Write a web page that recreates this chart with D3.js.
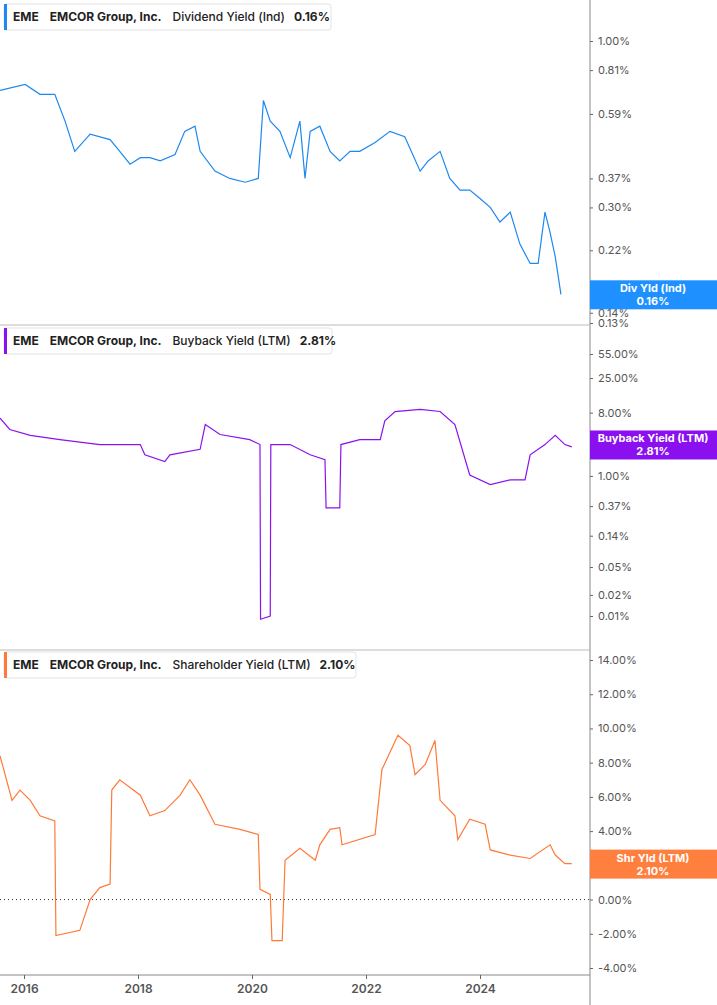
<!DOCTYPE html>
<html><head><meta charset="utf-8">
<script src="https://cdn.jsdelivr.net/npm/d3@7"></script>
<style>body{margin:0;background:#fff}text{font-family:Inter,"Noto Sans",sans-serif}</style>
</head><body><svg id="c" width="717" height="1005"></svg>
<script>
// px->year helpers used only once to express read-off years
const divYears=[2015.58,2016.02,2016.28,2016.54,2016.72,2016.89,2017.16,2017.51,2017.68,2017.86,2018.04,2018.21,2018.39,2018.65,2018.82,2019.0,2019.09,2019.35,2019.61,2019.88,2020.11,2020.2,2020.32,2020.49,2020.67,2020.84,2020.93,2021.02,2021.19,2021.37,2021.54,2021.72,2021.89,2022.16,2022.42,2022.68,2022.95,2023.09,2023.3,2023.47,2023.65,2023.82,2024.0,2024.18,2024.35,2024.53,2024.7,2024.88,2025.02,2025.14,2025.23,2025.32,2025.42];
const divVals=[0.70,0.73,0.68,0.68,0.56,0.45,0.51,0.49,0.45,0.41,0.43,0.43,0.42,0.44,0.52,0.54,0.45,0.39,0.37,0.36,0.37,0.65,0.56,0.52,0.43,0.56,0.37,0.52,0.54,0.45,0.42,0.45,0.45,0.48,0.52,0.50,0.39,0.42,0.45,0.37,0.34,0.34,0.32,0.30,0.27,0.29,0.23,0.20,0.20,0.29,0.25,0.21,0.16];
const bbYears=[2015.58,2015.75,2016.11,2016.63,2017.33,2018.04,2018.12,2018.47,2018.56,2019.09,2019.18,2019.44,2019.96,2020.14,2020.15,2020.32,2020.33,2020.67,2021.02,2021.28,2021.3,2021.54,2021.56,2021.89,2022.25,2022.33,2022.51,2022.95,2023.3,2023.56,2023.82,2024.18,2024.53,2024.79,2024.88,2025.14,2025.32,2025.49,2025.61];
const bbVals=[6.7,4.6,3.8,3.3,2.8,2.8,2.0,1.6,2.0,2.4,5.4,3.9,3.3,2.8,0.009,0.010,2.8,2.8,2.0,1.7,0.35,0.35,2.8,3.3,3.3,6.1,8.3,8.9,8.3,5.4,1.03,0.75,0.88,0.88,2.0,2.8,3.8,2.8,2.6];
const shYears=[2015.58,2015.79,2015.93,2016.11,2016.28,2016.54,2016.56,2016.98,2017.16,2017.33,2017.51,2017.54,2017.68,2018.04,2018.21,2018.47,2018.74,2018.91,2019.09,2019.35,2019.79,2020.11,2020.14,2020.32,2020.35,2020.53,2020.58,2020.84,2021.11,2021.19,2021.37,2021.54,2021.58,2022.16,2022.28,2022.56,2022.77,2022.86,2023.04,2023.21,2023.3,2023.56,2023.61,2023.82,2024.09,2024.18,2024.53,2024.88,2025.23,2025.32,2025.49,2025.61];
const shVals=[8.4,5.8,6.4,5.8,4.9,4.6,-2.1,-1.8,0.0,0.7,0.9,6.4,7.0,6.1,4.9,5.2,6.1,7.0,6.1,4.4,4.1,3.8,0.6,0.3,-2.4,-2.4,2.3,3.0,2.3,3.2,4.1,4.2,3.2,3.8,7.6,9.6,9.0,7.3,7.9,9.3,5.8,4.9,3.5,4.7,4.4,2.9,2.6,2.4,3.2,2.6,2.1,2.1];
const xTicks=[2016,2018,2020,2022,2024];
const divTicks=[1.00,0.81,0.59,0.37,0.30,0.22,0.14,0.13];
const bbTicks=[55,25,8,1,0.37,0.14,0.05,0.02,0.01];
const shTicks=[14,12,10,8,6,4,2,0,-2,-4];

const svg=d3.select("#c");
const x=d3.scaleLinear().domain([2016,2024]).range([24,480]);
const yD=d3.scaleLog().domain([1.0,0.13]).range([41,323]);
const yB=d3.scaleLog().domain([55,0.01]).range([354,616]);
const yS=d3.scaleLinear().domain([14,-4]).range([660,968]);
const AX=590;
svg.append("line").attr("x1",AX).attr("x2",AX).attr("y1",0).attr("y2",1005).attr("stroke","#888");
[325,650].forEach(y=>svg.append("line").attr("x1",0).attr("x2",AX).attr("y1",y).attr("y2",y).attr("stroke","#bbb"));
svg.append("line").attr("x1",0).attr("x2",AX).attr("y1",yS(0)).attr("y2",yS(0)).attr("stroke","#333").attr("stroke-dasharray","1,3");

function yaxis(sc,ticks,fmt){
  const g=svg.append("g").attr("transform",`translate(${AX},0)`).call(d3.axisRight(sc).tickValues(ticks).tickFormat(fmt).tickSize(3));
  g.select(".domain").remove();
  g.selectAll("text").attr("fill","#555").attr("font-size",11).attr("x",8);
  g.selectAll("line").attr("stroke","#666");
}
yaxis(yD,divTicks,d=>d.toFixed(2)+"%");
yaxis(yB,bbTicks,d=>d.toFixed(2)+"%");
yaxis(yS,shTicks,d=>d.toFixed(2)+"%");
const xg=svg.append("g").attr("transform","translate(0,975)").call(d3.axisBottom(x).tickValues(xTicks).tickFormat(d3.format("d")).tickSize(4));
xg.select(".domain").attr("stroke","#888").attr("d","M0,0H"+AX);
xg.selectAll("text").attr("fill","#555").attr("font-size",12).attr("font-weight",600).attr("dy","0.9em");
xg.selectAll("line").attr("stroke","#666");

function line(ys,vs,sc,col,curve){
  svg.append("path").datum(ys.map((y,i)=>[y,vs[i]])).attr("fill","none").attr("stroke",col).attr("stroke-width",1.2)
   .attr("d",d3.line().x(d=>x(d[0])).y(d=>sc(d[1])).curve(curve||d3.curveLinear));
}
line(divYears,divVals,yD,"#1e88f0");
line(bbYears,bbVals,yB,"#8a12f0");
line(shYears,shVals,yS,"#ff7a3a");

function header(y,label,val,col,w){
  svg.append("rect").attr("x",4).attr("y",y).attr("width",w).attr("height",26).attr("rx",3).attr("fill","#fff").attr("stroke","#e3e3e3");
  svg.append("rect").attr("x",4).attr("y",y).attr("width",3).attr("height",26).attr("fill",col);
  const t=svg.append("text").attr("x",13).attr("y",y+17).attr("font-size",12).attr("fill","#222");
  t.append("tspan").attr("font-weight",700).text("EME");
  t.append("tspan").attr("dx",11).attr("font-weight",700).text("EMCOR Group, Inc.");
  t.append("tspan").attr("dx",11).attr("font-weight",500).text(label);
  t.append("tspan").attr("dx",9).attr("font-weight",700).text(val);
}
header(4,"Dividend Yield (Ind)","0.16%","#1e88f0",327);
header(328,"Buyback Yield (LTM)","2.81%","#8a12f0",328);
header(652,"Shareholder Yield (LTM)","2.10%","#ff7a3a",352);

function tag(v,sc,l1,val,col){
  const cy=sc(v);
  svg.append("rect").attr("x",AX).attr("y",cy-14).attr("width",717-AX).attr("height",29).attr("fill",col);
  svg.append("text").attr("x",653).attr("y",cy-2).attr("text-anchor","middle").attr("fill","#fff").attr("font-size",11).attr("font-weight",700).text(l1);
  svg.append("text").attr("x",653).attr("y",cy+11).attr("text-anchor","middle").attr("fill","#fff").attr("font-size",11).attr("font-weight",700).text(val);
}
tag(0.16,yD,"Div Yld (Ind)","0.16%","#1e90ff");
tag(2.81,yB,"Buyback Yield (LTM)","2.81%","#8b10f0");
tag(2.10,yS,"Shr Yld (LTM)","2.10%","#ff7f3f");
</script></body></html>
